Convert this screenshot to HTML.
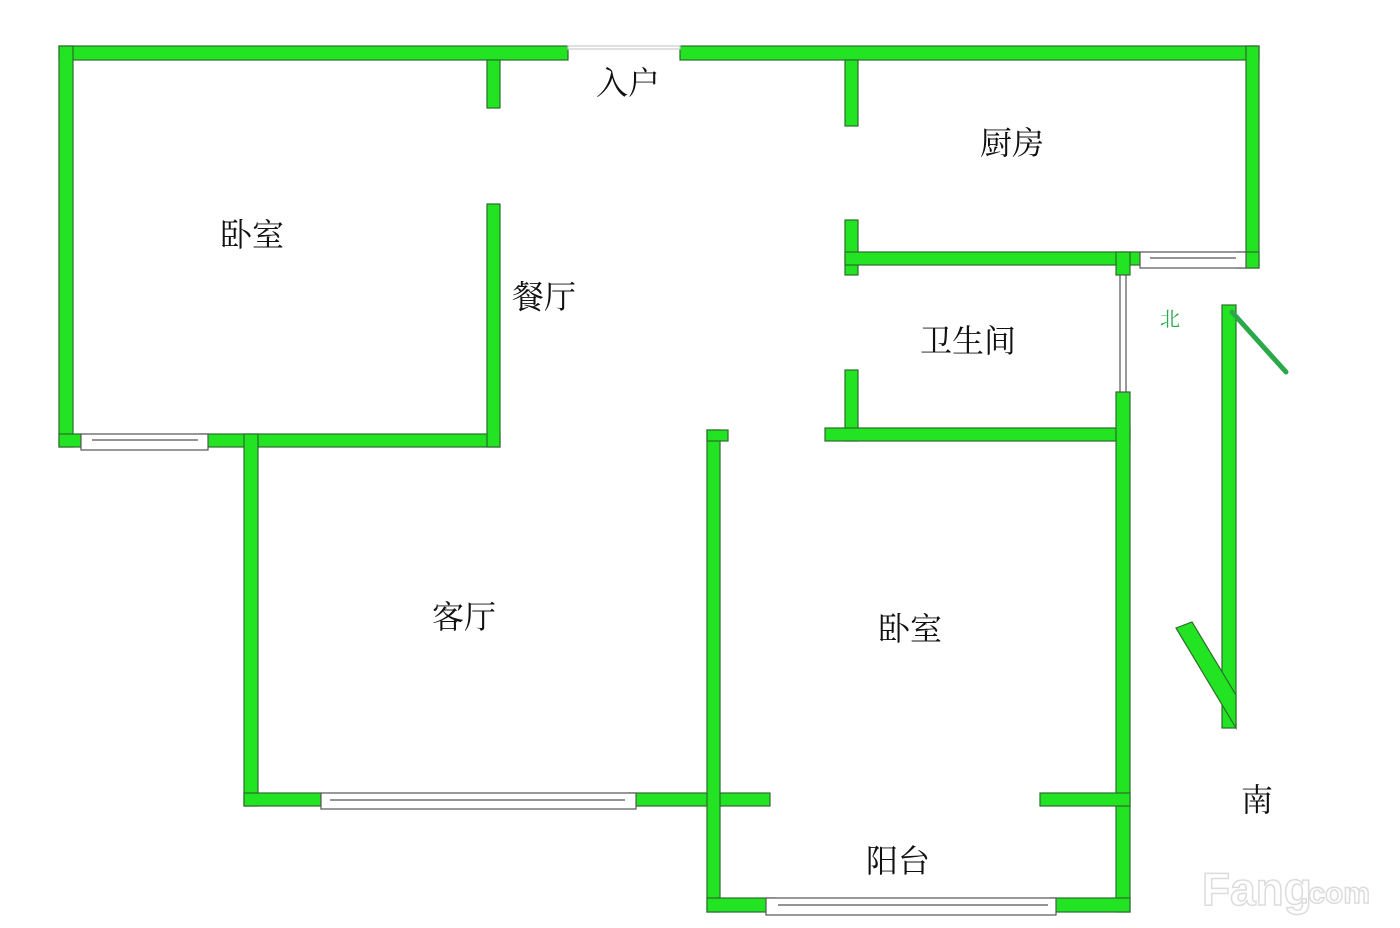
<!DOCTYPE html>
<html><head><meta charset="utf-8"><style>
html,body{margin:0;padding:0;background:#fff;width:1400px;height:928px;overflow:hidden}
svg text{font-family:"Liberation Serif","Noto Serif CJK SC",serif;fill:#111}
svg text.logo{font-family:"Liberation Sans",sans-serif;font-weight:bold;fill:#fff;stroke:#dcdcdc;stroke-width:1.5}
</style></head><body>
<svg width="1400" height="928" viewBox="0 0 1400 928" xmlns="http://www.w3.org/2000/svg">
<g fill="#22e422" stroke="#2d6b2d" stroke-width="1.2">
<rect x="59" y="46" width="509" height="14"/>
<rect x="680" y="46" width="579" height="14"/>
<rect x="59" y="46" width="14" height="401"/>
<rect x="59" y="434" width="22" height="13"/>
<rect x="200" y="434" width="300" height="13"/>
<rect x="487" y="60" width="13" height="48"/>
<rect x="487" y="204" width="13" height="243"/>
<rect x="1246" y="46" width="13" height="222"/>
<rect x="845" y="60" width="13" height="66"/>
<rect x="845" y="220" width="13" height="55"/>
<rect x="845" y="252" width="295" height="13"/>
<rect x="1236" y="252" width="23" height="16"/>
<rect x="1116" y="252" width="14" height="23"/>
<rect x="845" y="370" width="13" height="71"/>
<rect x="825" y="428" width="305" height="13"/>
<rect x="1116" y="392" width="14" height="520"/>
<rect x="244" y="434" width="14" height="372"/>
<rect x="244" y="793" width="77" height="13"/>
<rect x="628" y="793" width="142" height="13"/>
<rect x="707" y="430" width="13" height="482"/>
<rect x="707" y="430" width="21" height="11"/>
<rect x="1040" y="793" width="90" height="13"/>
<rect x="707" y="898" width="68" height="14"/>
<rect x="1050" y="898" width="80" height="14"/>
<rect x="1222" y="305" width="14" height="423"/>
<polygon points="1176,628 1192,622 1236,695 1236,728"/>
</g>
<line x1="1232" y1="312" x2="1286" y2="372" stroke="#2aa84a" stroke-width="5" stroke-linecap="round"/>
<g fill="#fff" stroke="#555" stroke-width="1.2">
<rect x="81" y="434" width="127" height="16"/>
<line x1="92" y1="440" x2="198" y2="440"/>
<rect x="321" y="793" width="315" height="16"/>
<line x1="330" y1="800" x2="625" y2="800"/>
<rect x="1140" y="252" width="106" height="16"/>
<line x1="1150" y1="258" x2="1236" y2="258"/>
<rect x="766" y="898" width="290" height="17"/>
<line x1="778" y1="905" x2="1048" y2="905"/>
<rect x="1120" y="275" width="6" height="117"/>
<rect x="568" y="46" width="112" height="3" stroke="#ccc"/>
</g>
<g font-size="32">
<text x="596" y="94">入户</text>
<text x="980" y="154">厨房</text>
<text x="220" y="246">卧室</text>
<text x="512" y="308">餐厅</text>
<text x="920" y="352">卫生间</text>
<text x="432" y="628">客厅</text>
<text x="878" y="640">卧室</text>
<text x="866" y="872">阳台</text>
<text x="1241" y="811">南</text>
</g>
<text x="1160" y="326" font-size="20" style="fill:#2aa84a">北</text>
<text class="logo" x="1202" y="905" font-size="46">Fang</text>
<text class="logo" x="1300" y="903" font-size="30">.com</text>
</svg>
</body></html>
